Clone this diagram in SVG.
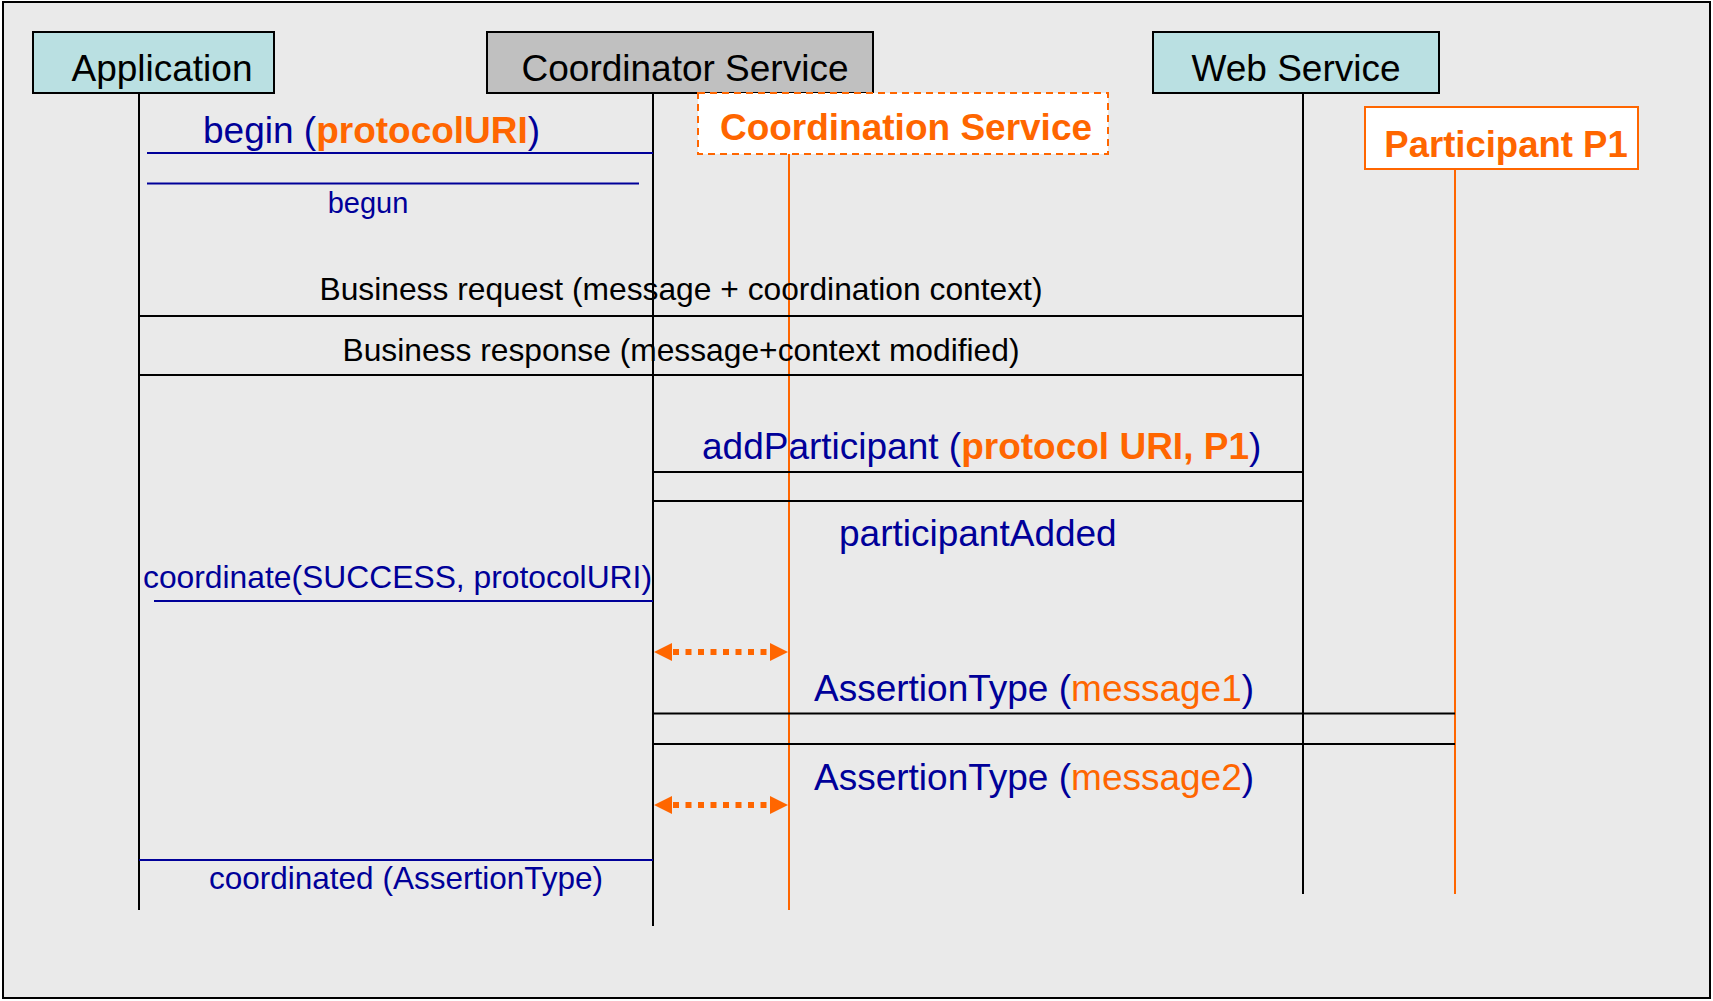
<svg xmlns="http://www.w3.org/2000/svg" width="1713" height="1001" viewBox="0 0 1713 1001">
<defs>
<style>
text{font-family:"Liberation Sans",Arial,sans-serif}
.hdr{font-size:37px;fill:#000}
.box{stroke:#000;stroke-width:2}
.life{stroke:#000;stroke-width:2;fill:none}
.olife{stroke:#FF6600;stroke-width:2;fill:none}
.blue{fill:#000099}
.or{fill:#FF6600}
.b{font-weight:bold}
.msgb{stroke:#000099;stroke-width:2;fill:none}
.msgk{stroke:#000;stroke-width:2;fill:none}
.dot{stroke:#FF6600;stroke-width:6;stroke-dasharray:6 6.5;fill:none}
</style>
<marker id="ah" viewBox="0 0 10 10" refX="10" refY="5" markerWidth="3.2" markerHeight="3.2" orient="auto-start-reverse" markerUnits="strokeWidth">
<path d="M0,0 L10,5 L0,10 Z" fill="#FF6600"/>
</marker>
</defs>
<rect x="3" y="2" width="1707" height="996" fill="#EAEAEA" stroke="#000" stroke-width="2"/>

<g id="application">
<rect class="box" x="33" y="32" width="241" height="61" fill="#BAE0E2"/>
<text class="hdr" x="162" y="81" text-anchor="middle">Application</text>
</g>
<g id="coordinator-service">
<rect class="box" x="487" y="32" width="386" height="61" fill="#C0C0C0"/>
<text class="hdr" x="685" y="81" text-anchor="middle">Coordinator Service</text>
</g>
<g id="web-service">
<rect class="box" x="1153" y="32" width="286" height="61" fill="#BAE0E2"/>
<text class="hdr" x="1296" y="81" text-anchor="middle">Web Service</text>
</g>
<g id="coordination-service">
<rect x="698" y="93" width="410" height="61" fill="#FFFFFF" stroke="#FF6600" stroke-width="2" stroke-dasharray="7 5"/>
<text class="or b" x="906" y="140" font-size="37" text-anchor="middle">Coordination Service</text>
</g>
<g id="participant-p1">
<rect x="1365" y="107" width="273" height="62" fill="#FFFFFF" stroke="#FF6600" stroke-width="2"/>
<text class="or b" x="1506" y="157" font-size="36.5" text-anchor="middle">Participant P1</text>
</g>

<g id="connectors">
<line class="life" x1="139" y1="93" x2="139" y2="910"/>
<line class="life" x1="653" y1="93" x2="653" y2="926"/>
<line class="life" x1="1303" y1="93" x2="1303" y2="894"/>
<line class="olife" x1="789" y1="154" x2="789" y2="910"/>
<line class="olife" x1="1455" y1="169" x2="1455" y2="894"/>

<line class="msgb" x1="147" y1="153" x2="653" y2="153"/>
<line class="msgb" x1="147" y1="183.5" x2="639" y2="183.5"/>
<line class="msgk" x1="139" y1="316" x2="1303" y2="316"/>
<line class="msgk" x1="139" y1="375" x2="1303" y2="375"/>
<line class="msgk" x1="653" y1="472" x2="1303" y2="472"/>
<line class="msgk" x1="653" y1="501" x2="1303" y2="501"/>
<line class="msgb" x1="154" y1="601" x2="653" y2="601"/>
<line class="msgk" x1="653" y1="713.5" x2="1455" y2="713.5"/>
<line class="msgk" x1="653" y1="744" x2="1455" y2="744"/>
<line class="msgb" x1="139" y1="860" x2="653" y2="860"/>

<line class="dot" x1="673" y1="652" x2="769" y2="652"/>
<path d="M654,652 L672,643 L672,661 Z" fill="#FF6600"/>
<path d="M788,652 L770,643 L770,661 Z" fill="#FF6600"/>
<line class="dot" x1="673" y1="805" x2="769" y2="805"/>
<path d="M654,805 L672,796 L672,814 Z" fill="#FF6600"/>
<path d="M788,805 L770,796 L770,814 Z" fill="#FF6600"/>
</g>

<g id="labels">
<text x="203" y="143" font-size="37" class="blue">begin (<tspan class="or b">protocolURI</tspan>)</text>
<text x="368" y="213" font-size="29" class="blue" text-anchor="middle">begun</text>
<text x="681" y="300" font-size="32" text-anchor="middle" textLength="723" lengthAdjust="spacingAndGlyphs">Business request (message + coordination context)</text>
<text x="681" y="361" font-size="32" text-anchor="middle" textLength="677" lengthAdjust="spacingAndGlyphs">Business response (message+context modified)</text>
<text x="702" y="459" font-size="37" class="blue">addParticipant (<tspan class="or b">protocol URI, P1</tspan>)</text>
<text x="839" y="546" font-size="37" class="blue">participantAdded</text>
<text x="143" y="588" font-size="32" class="blue" textLength="509" lengthAdjust="spacingAndGlyphs">coordinate(SUCCESS, protocolURI)</text>
<text x="814" y="701" font-size="37" class="blue">AssertionType (<tspan class="or">message1</tspan>)</text>
<text x="814" y="790" font-size="37" class="blue">AssertionType (<tspan class="or">message2</tspan>)</text>
<text x="406" y="889" font-size="31.5" class="blue" text-anchor="middle">coordinated (AssertionType)</text>
</g>
</svg>
